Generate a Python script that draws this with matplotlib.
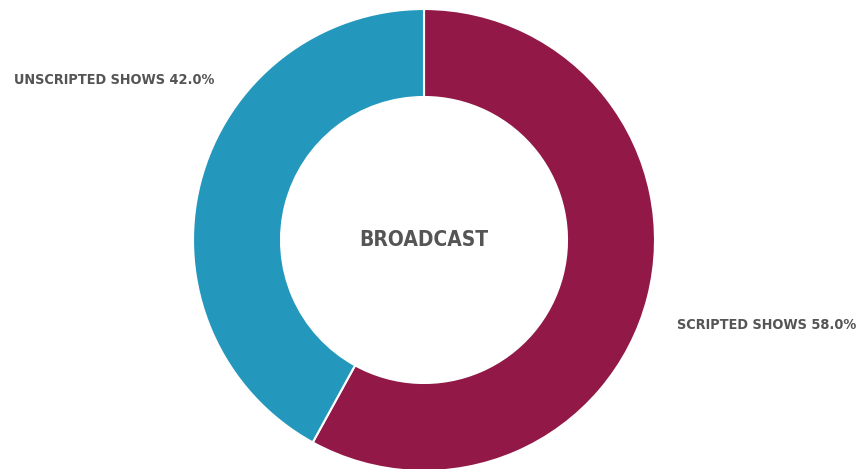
import matplotlib.pyplot as plt

# data
labels = ['SCRIPTED SHOWS', 'UNSCRIPTED SHOWS']
shares = [58.0, 42.0]
colors = ['#921947', '#2398BC']
center_label = 'BROADCAST'

fig = plt.figure(figsize=(8.6, 4.69), dpi=100)
ax = fig.add_axes([0, 0, 1, 1])

# donut, drawn in pixel-like coordinates
ax.pie(shares, colors=colors, startangle=90, counterclock=False,
       center=(424, 229), radius=231, frame=True,
       wedgeprops=dict(width=88, edgecolor='white', linewidth=1.5))
ax.set_xlim(0, 860)
ax.set_ylim(0, 469)
ax.set_aspect('equal')
ax.axis('off')

font = dict(family='DejaVu Sans', fontstretch='condensed', fontweight='bold', color='#555555')
ax.text(424, 229, center_label, ha='center', va='center', fontsize=15, **font)
ax.text(214, 389, f'{labels[1]} {shares[1]:.1f}%', ha='right', va='center', fontsize=10.4, **font)
ax.text(677, 144, f'{labels[0]} {shares[0]:.1f}%', ha='left', va='center', fontsize=10.4, **font)

plt.savefig('out.png', dpi=100)
